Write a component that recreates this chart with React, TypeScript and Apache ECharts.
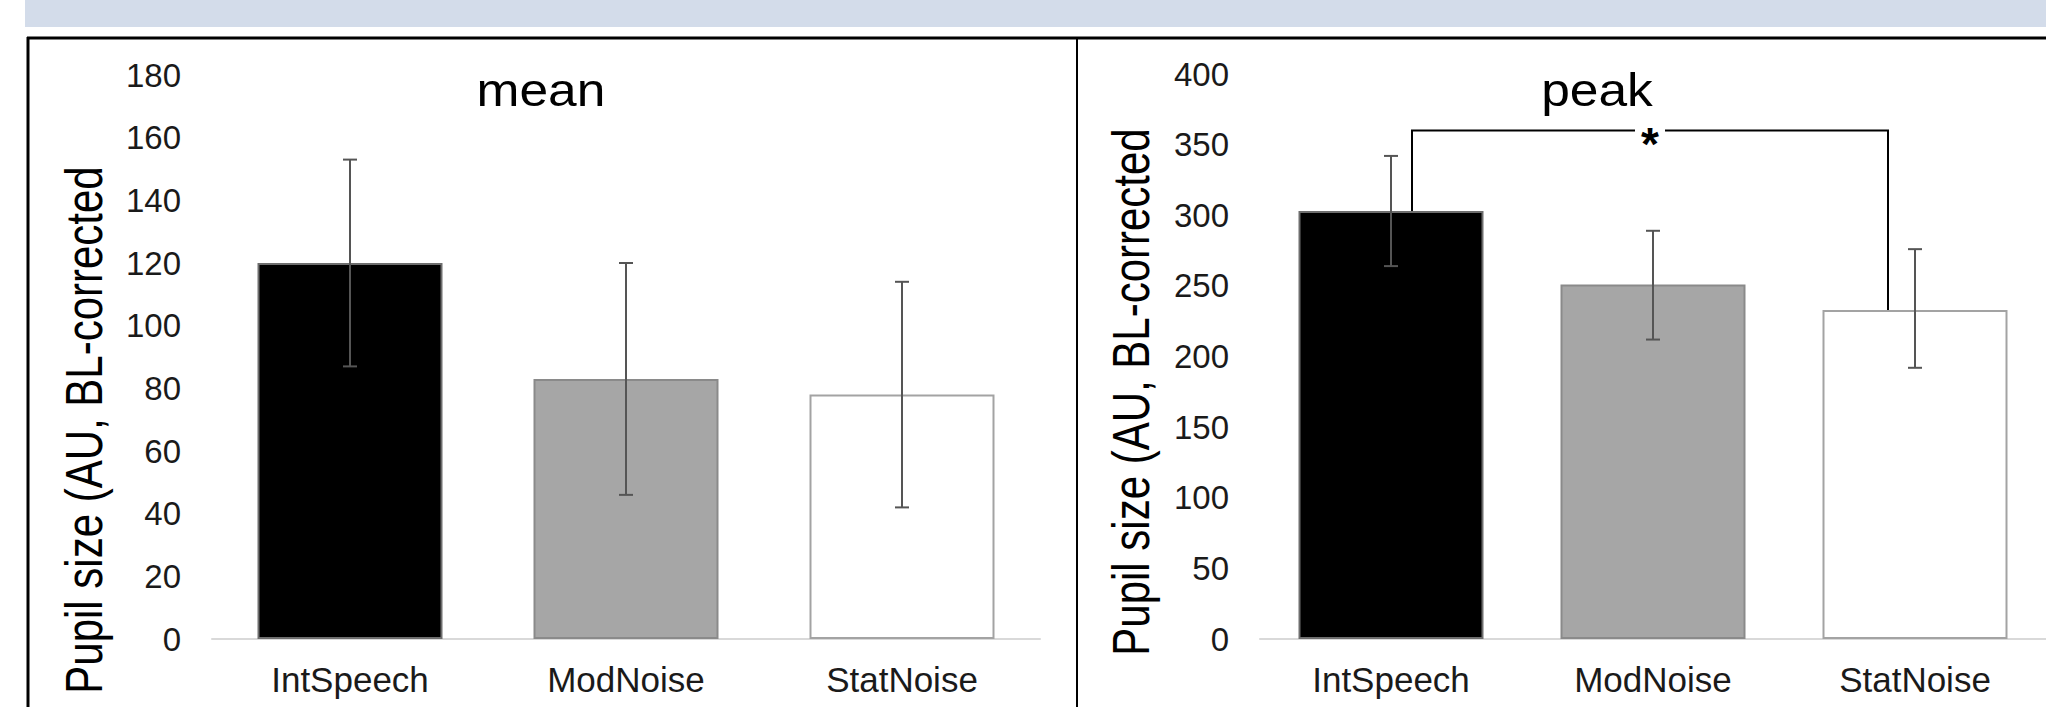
import React, { useEffect, useRef } from "react";
import * as echarts from "echarts";

// ---- data ----
const categories = ["IntSpeech", "ModNoise", "StatNoise"];
const meanValues = [120, 83, 78];
const meanLow = [87, 46, 42];
const meanHigh = [153, 120, 114];
const peakValues = [303, 251, 233];
const peakLow = [264, 212, 192];
const peakHigh = [342, 289, 276];
const meanAxis = { min: 0, max: 180, interval: 20 };
const peakAxis = { min: 0, max: 400, interval: 50 };
// significance bracket on "peak": from category, to category, bracket level
const sigFrom = [0];
const sigTo = [2];
const sigLevel = [360];
const sigLabel = "*";
const panelTitles = ["mean", "peak"];
const yTitle = "Pupil size (AU, BL-corrected";

const FONT = "'Liberation Sans', Arial, Helvetica, sans-serif";
const barColors = ["#000000", "#a6a6a6", "#ffffff"];
const barBorders = ["#6e6e6e", "#8a8a8a", "#a3a3a3"];

function barSeries(idx: number, values: number[]) {
  return {
    type: "bar",
    xAxisIndex: idx,
    yAxisIndex: idx,
    barWidth: 185,
    data: values.map((v, i) => ({
      value: v,
      itemStyle: { color: barColors[i], borderColor: barBorders[i], borderWidth: 2 },
    })),
    z: 2,
  };
}

function errorSeries(idx: number, low: number[], high: number[]) {
  return {
    type: "custom",
    xAxisIndex: idx,
    yAxisIndex: idx,
    data: low.map((l, i) => [i, l, high[i]]),
    encode: { x: 0, y: [1, 2] },
    z: 5,
    renderItem: (_p: any, api: any) => {
      const pl = api.coord([api.value(0), api.value(1)]);
      const ph = api.coord([api.value(0), api.value(2)]);
      const x = pl[0];
      const hw = 7;
      const style = { stroke: "#555555", lineWidth: 2 };
      return {
        type: "group",
        children: [
          { type: "line", shape: { x1: x, y1: pl[1], x2: x, y2: ph[1] }, style },
          { type: "line", shape: { x1: x - hw, y1: ph[1], x2: x + hw, y2: ph[1] }, style },
          { type: "line", shape: { x1: x - hw, y1: pl[1], x2: x + hw, y2: pl[1] }, style },
        ],
      };
    },
  };
}

function bracketSeries(idx: number, values: number[]) {
  return {
    type: "custom",
    xAxisIndex: idx,
    yAxisIndex: idx,
    z: 6,
    data: sigFrom.map((f, i) => [f, sigTo[i], sigLevel[i], values[f], values[sigTo[i]]]),
    renderItem: (_p: any, api: any) => {
      const x0 = api.coord([api.value(0), 0])[0] + 21;
      const x1 = api.coord([api.value(1), 0])[0] - 27;
      const yt = api.coord([api.value(0), api.value(2)])[1];
      const yb0 = api.coord([api.value(0), api.value(3)])[1];
      const yb1 = api.coord([api.value(1), api.value(4)])[1];
      const sx = (x0 + x1) / 2;
      const gap = 15;
      const style = { stroke: "#000", lineWidth: 2, fill: null };
      return {
        type: "group",
        children: [
          { type: "polyline", shape: { points: [[x0, yb0], [x0, yt], [sx - gap, yt]] }, style },
          { type: "polyline", shape: { points: [[sx + gap, yt], [x1, yt], [x1, yb1]] }, style },
          {
            type: "text",
            x: sx,
            y: yt + 13,
            style: {
              text: sigLabel,
              fontSize: 46,
              fontWeight: "bold",
              fontFamily: FONT,
              fill: "#000",
              align: "center",
              verticalAlign: "middle",
              textAlign: "center",
              textVerticalAlign: "middle",
            },
          },
        ],
      };
    },
  };
}

function xAxis(idx: number) {
  return {
    type: "category",
    gridIndex: idx,
    data: categories,
    axisLine: { show: true, lineStyle: { color: "#d9d9d9", width: 2 } },
    axisTick: { show: false },
    axisLabel: { fontSize: 35, color: "#1a1a1a", fontFamily: FONT, margin: 23 },
  };
}

function yAxis(idx: number, ax: { min: number; max: number; interval: number }) {
  return {
    type: "value",
    gridIndex: idx,
    min: ax.min,
    max: ax.max,
    interval: ax.interval,
    axisLine: { show: false },
    axisTick: { show: false },
    splitLine: { show: false },
    axisLabel: { fontSize: 33, color: "#1a1a1a", fontFamily: FONT, margin: 31 },
  };
}

function txt(text: string, x: number, y: number, fontSize: number, extra: any = {}) {
  return {
    type: "text",
    x,
    y,
    ...extra,
    style: {
      text,
      fontSize,
      fontFamily: FONT,
      fill: "#000",
      align: "center",
      verticalAlign: "middle",
      textAlign: "center",
      textVerticalAlign: "middle",
    },
  };
}

export default function App() {
  const ref = useRef<HTMLDivElement>(null);
  useEffect(() => {
    if (!ref.current) return;
    const chart = echarts.init(ref.current, undefined, { renderer: "svg" });
    chart.setOption({
      animation: false,
      backgroundColor: "#ffffff",
      grid: [
        { left: 212, top: 75, width: 828, height: 564 },
        { left: 1260, top: 74, width: 826, height: 565 },
      ],
      xAxis: [xAxis(0), xAxis(1)],
      yAxis: [yAxis(0, meanAxis), yAxis(1, peakAxis)],
      series: [
        barSeries(0, meanValues),
        errorSeries(0, meanLow, meanHigh),
        barSeries(1, peakValues),
        errorSeries(1, peakLow, peakHigh),
        bracketSeries(1, peakValues),
      ],
      graphic: [
        { type: "rect", shape: { x: 25, y: 0, width: 2030, height: 27 }, style: { fill: "#d3dcea" }, z: 0 },
        { type: "line", shape: { x1: 27, y1: 38, x2: 2046, y2: 38 }, style: { stroke: "#000", lineWidth: 3 } },
        { type: "line", shape: { x1: 28, y1: 37, x2: 28, y2: 707 }, style: { stroke: "#000", lineWidth: 3 } },
        { type: "line", shape: { x1: 1077, y1: 37, x2: 1077, y2: 707 }, style: { stroke: "#000", lineWidth: 2 } },
        txt(panelTitles[0], 541, 90, 46, { scaleX: 1.12 }),
        txt(panelTitles[1], 1597, 90, 46, { scaleX: 1.12 }),
        txt(yTitle, 84, 430, 42, { rotation: Math.PI / 2, scaleY: 1.25 }),
        txt(yTitle, 1131, 392, 42, { rotation: Math.PI / 2, scaleY: 1.25 }),
      ],
    });
    return () => chart.dispose();
  }, []);
  return (
    <div
      ref={ref}
      style={{ position: "fixed", left: 0, top: 0, width: 2046, height: 707, background: "#fff" }}
    />
  );
}
